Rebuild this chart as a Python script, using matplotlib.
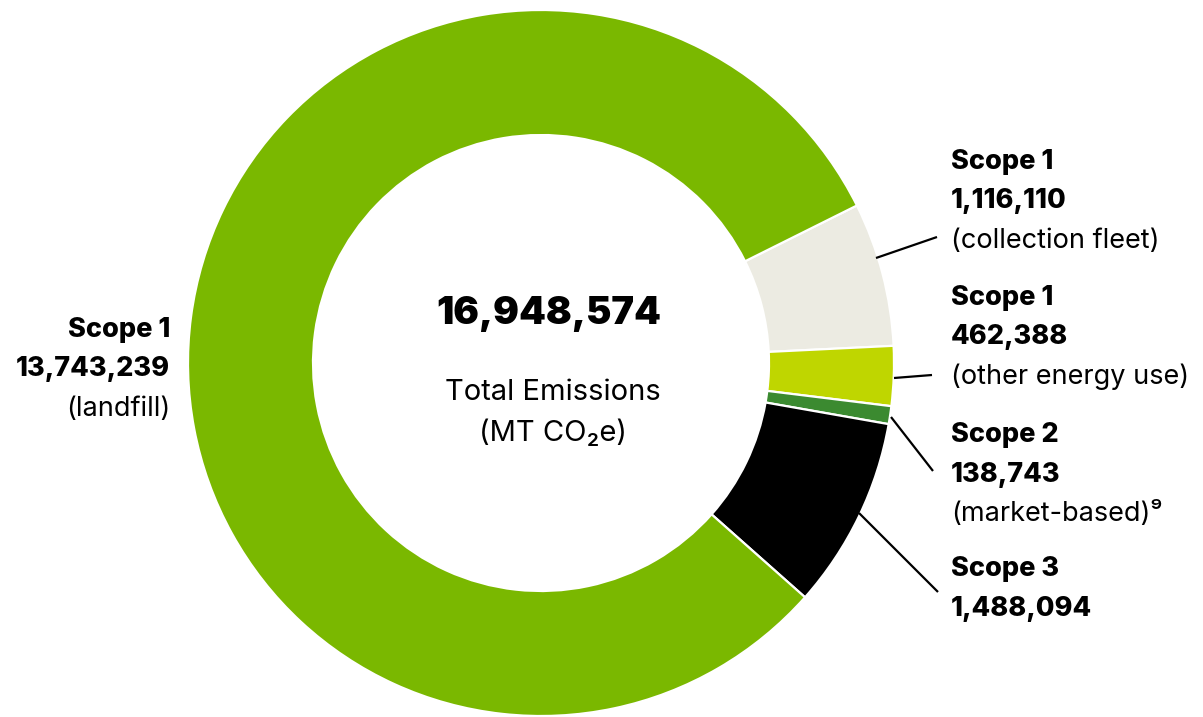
import matplotlib.pyplot as plt

# Emission data (MT CO2e)
segments = ['Scope 1 collection fleet', 'Scope 1 other energy use', 'Scope 2 market-based',
            'Scope 3', 'Scope 1 landfill']
values = [1116110, 462388, 138743, 1488094, 13743239]
colors = ['#ecebe2', '#bfd600', '#3b8a30', '#000000', '#7ab800']
total = 16948574

scopes = ['Scope 1', 'Scope 1', 'Scope 2', 'Scope 3', 'Scope 1']
value_labels = ['1,116,110', '462,388', '138,743', '1,488,094', '13,743,239']
notes = ['(collection fleet)', '(other energy use)', '(market-based)\u2079', None, '(landfill)']

W, H = 1203, 717
fig = plt.figure(figsize=(W / 100, H / 100), dpi=100)
ax = fig.add_axes([0, 0, 1, 1])
ax.set_xlim(0, W)
ax.set_ylim(0, H)
ax.axis('off')

def px(x, y):
    # pixel coords (top-left origin) -> axes data coords
    return x, H - y

cx, cy = px(541, 363)
R = 353
ax.pie(values, colors=colors, startangle=26.5, counterclock=False,
       center=(cx, cy), radius=R,
       wedgeprops=dict(width=R - 228, edgecolor='white', linewidth=1.6))
ax.set_xlim(0, W)
ax.set_ylim(0, H)
ax.set_aspect('equal')

fam = ['Inter', 'DejaVu Sans']

# centre text
ax.text(*px(549, 314), f'{total:,}', ha='center', va='center', fontsize=27.5,
        fontweight='black', family=fam)
ax.text(*px(553, 393), 'Total Emissions', ha='center', va='center', fontsize=21, family=fam)
ax.text(*px(553, 433), '(MT CO\u2082e)', ha='center', va='center', fontsize=21, family=fam)

# leader lines (pixel endpoints)
leaders = [((876, 258), (937, 237)),
           ((894, 378), (932, 375)),
           ((891, 417), (933, 471)),
           ((859, 513), (938, 592))]
for (x0, y0), (x1, y1) in leaders:
    ax.plot([px(x0, y0)[0], px(x1, y1)[0]], [px(x0, y0)[1], px(x1, y1)[1]],
            color='black', lw=1.6, solid_capstyle='butt')

# labels: first line y (pixels)
label_pos = [(951, 161, 'left'), (951, 297, 'left'), (951, 434, 'left'),
             (951, 568, 'left'), (170, 329, 'right')]
step = 39.5
fs = 19.5
for (x, y, ha), sc, vl, nt in zip(label_pos, scopes, value_labels, notes):
    ax.text(*px(x, y + 1), sc, ha=ha, va='center', fontsize=fs, fontweight='heavy', family=fam)
    ax.text(*px(x, y + 1 + step), vl, ha=ha, va='center', fontsize=fs, fontweight='heavy', family=fam)
    if nt:
        ax.text(*px(x, y + 1 + 2 * step), nt, ha=ha, va='center', fontsize=fs, family=fam)

fig.savefig('out.png', dpi=100, facecolor='white')
